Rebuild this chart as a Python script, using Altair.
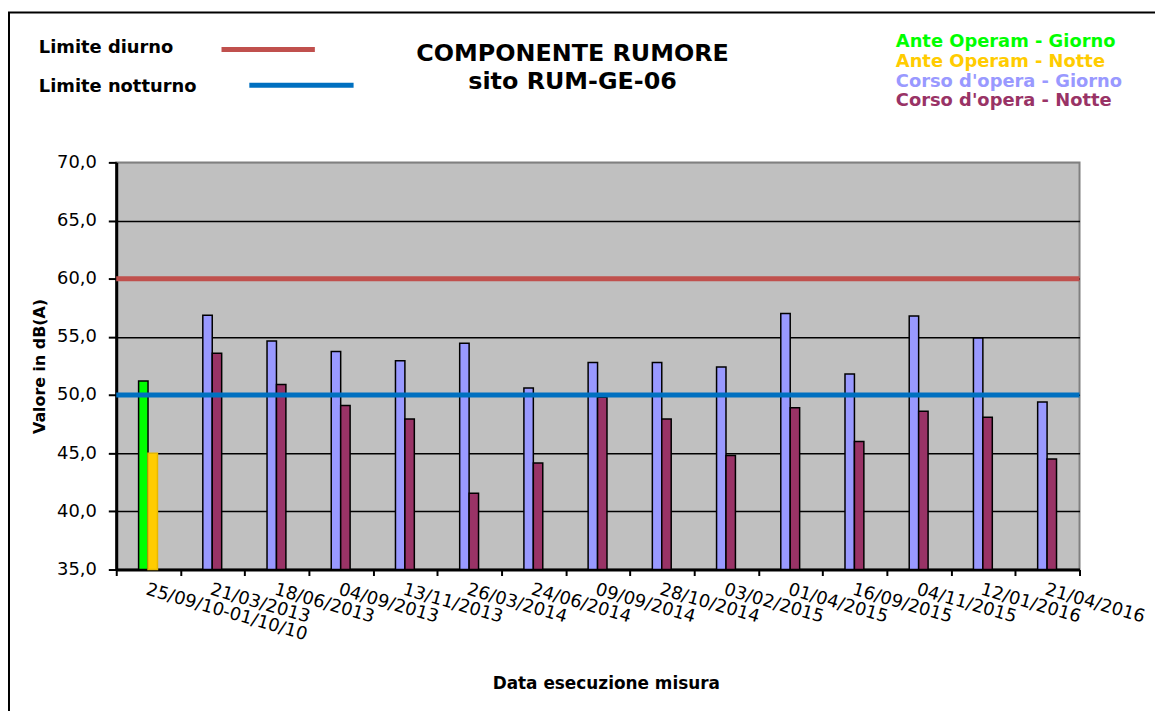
import altair as alt
import pandas as pd

# ---------------- data ----------------
categories = [
    "25/09/10-01/10/10", "21/03/2013", "18/06/2013", "04/09/2013", "13/11/2013",
    "26/03/2014", "24/06/2014", "09/09/2014", "28/10/2014", "03/02/2015",
    "01/04/2015", "16/09/2015", "04/11/2015", "12/01/2016", "21/04/2016",
]
phase = ["Ante Operam"] + ["Corso d'opera"] * 14
giorno = [51.2, 56.85, 54.65, 53.75, 52.95, 54.45, 50.6, 52.8, 52.8, 52.4,
          57.0, 51.8, 56.8, 54.9, 49.4]
notte = [45.0, 53.6, 50.9, 49.1, 47.95, 41.55, 44.15, 49.8, 47.95, 44.8,
         48.9, 46.0, 48.6, 48.1, 44.5]

series_names = ["Ante Operam - Giorno", "Ante Operam - Notte",
                "Corso d'opera - Giorno", "Corso d'opera - Notte"]
series_colors = ["#00FF00", "#FFCC00", "#9999FF", "#993366"]
series_strokes = ["#000000", "#E6B800", "#000000", "#000000"]

limit_names = ["Limite diurno", "Limite notturno"]
limit_values = [60, 50]
limit_colors = ["#C0504D", "#0070C0"]

y_ticks = [35, 40, 45, 50, 55, 60, 65, 70]
title_lines = ["COMPONENTE RUMORE", "sito RUM-GE-06"]

rows = []
for i, c in enumerate(categories):
    rows.append({"category": c, "series": phase[i] + " - Giorno", "slot": "L", "value": giorno[i]})
    rows.append({"category": c, "series": phase[i] + " - Notte", "slot": "R", "value": notte[i]})
df = pd.DataFrame(rows)

FONT = "DejaVu Sans"

# ---------------- bars ----------------
bars = alt.Chart(df).mark_bar(strokeWidth=1.5).encode(
    x=alt.X(
        "category:N",
        sort=categories,
        scale=alt.Scale(domain=categories, paddingInner=0, paddingOuter=0),
        axis=alt.Axis(
            labelAngle=16, labelAlign="left", labelBaseline="top",
            labelFont=FONT, labelFontSize=18, labelColor="black",
            labelPadding=5, labelOverlap=False,
            tickBand="extent", tickSize=6, tickWidth=2, tickColor="black",
            domainColor="black", domainWidth=3, grid=False,
            title="Data esecuzione misura", titleFont=FONT, titleFontSize=17,
            titleFontWeight="bold", titleColor="black",
            titleX=493, titleY=115, titleAlign="center", titleBaseline="middle",
        ),
    ),
    xOffset=alt.XOffset(
        "slot:N",
        scale=alt.Scale(domain=["L", "R"], range=[22.5, 41.5], paddingInner=0, paddingOuter=0),
    ),
    y=alt.Y(
        "value:Q",
        scale=alt.Scale(domain=[35, 70], nice=False, zero=False),
        axis=alt.Axis(
            values=y_ticks,
            labelExpr="replace(format(datum.value, '.1f'), '.', ',')",
            labelFont=FONT, labelFontSize=18, labelColor="black", labelPadding=12,
            tickSize=8, tickWidth=2, tickColor="black",
            domainColor="black", domainWidth=3,
            grid=True, gridWidth=1.5,
            gridColor={"condition": {"test": "datum.value === 70", "value": "#808080"}, "value": "#000000"},
            title="Valore in dB(A)", titleFont=FONT, titleFontSize=16,
            titleFontWeight="bold", titleColor="black",
            titleX=-77, titleY=205, titleAlign="center", titleBaseline="middle", titleAngle=270,
        ),
    ),
    y2=alt.datum(35),
    color=alt.Color("series:N", scale=alt.Scale(domain=series_names, range=series_colors), legend=None),
    stroke=alt.Stroke("series:N", scale=alt.Scale(domain=series_names, range=series_strokes), legend=None),
)

# ---------------- limit lines ----------------
limit_layers = []
for name, val, col in zip(limit_names, limit_values, limit_colors):
    limit_layers.append(
        alt.Chart(pd.DataFrame({"name": [name]})).mark_rule(color=col, strokeWidth=5).encode(
            y=alt.datum(val)
        )
    )

# ---------------- decorations: frame, titles, legends ----------------
one = pd.DataFrame({"k": [0]})
frame = alt.Chart(one).mark_rect(fill="transparent", stroke="black", strokeWidth=2).encode(
    x=alt.value(-108), x2=alt.value(1200), y=alt.value(-151), y2=alt.value(700)
)

deco = []
# chart title
for line, yy in zip(title_lines, [-102, -74]):
    deco.append(
        alt.Chart(pd.DataFrame({"t": [line]})).mark_text(
            font=FONT, fontSize=24, fontWeight="bold", color="black",
            align="center", baseline="alphabetic",
        ).encode(text="t:N", x=alt.value(459.5), y=alt.value(yy))
    )

# limit legend (top-left)
lim_text_y = [-110, -71]
lim_line_x = [(106, 200), (134, 239)]
lim_line_y = [-113.7, -77.7]
for name, col, ty, (lx1, lx2), ly in zip(limit_names, limit_colors, lim_text_y, lim_line_x, lim_line_y):
    deco.append(
        alt.Chart(pd.DataFrame({"t": [name]})).mark_text(
            font=FONT, fontSize=18, fontWeight="bold", color="black",
            align="left", baseline="alphabetic",
        ).encode(text="t:N", x=alt.value(-78), y=alt.value(ty))
    )
    deco.append(
        alt.Chart(pd.DataFrame({"t": [name]})).mark_rule(color=col, strokeWidth=5).encode(
            x=alt.value(lx1), x2=alt.value(lx2), y=alt.value(ly)
        )
    )

# series legend (top-right), coloured text only
ser_y = [-116, -96, -76, -57]
for name, col, yy in zip(series_names, series_colors, ser_y):
    deco.append(
        alt.Chart(pd.DataFrame({"t": [name]})).mark_text(
            font=FONT, fontSize=18, fontWeight="bold", color=col,
            align="left", baseline="alphabetic",
        ).encode(text="t:N", x=alt.value(785), y=alt.value(yy))
    )

chart = alt.layer(frame, bars, *limit_layers, *deco).properties(
    width=970,
    height=410,
    padding={"left": 109, "top": 153, "right": 76, "bottom": 140},
    autosize=alt.AutoSizeParams(type="none"),
    background="white",
).configure_view(
    fill="#C0C0C0", stroke="#808080", strokeWidth=2
)

chart.save("out.html", embed_options={"renderer": "svg", "actions": False})
